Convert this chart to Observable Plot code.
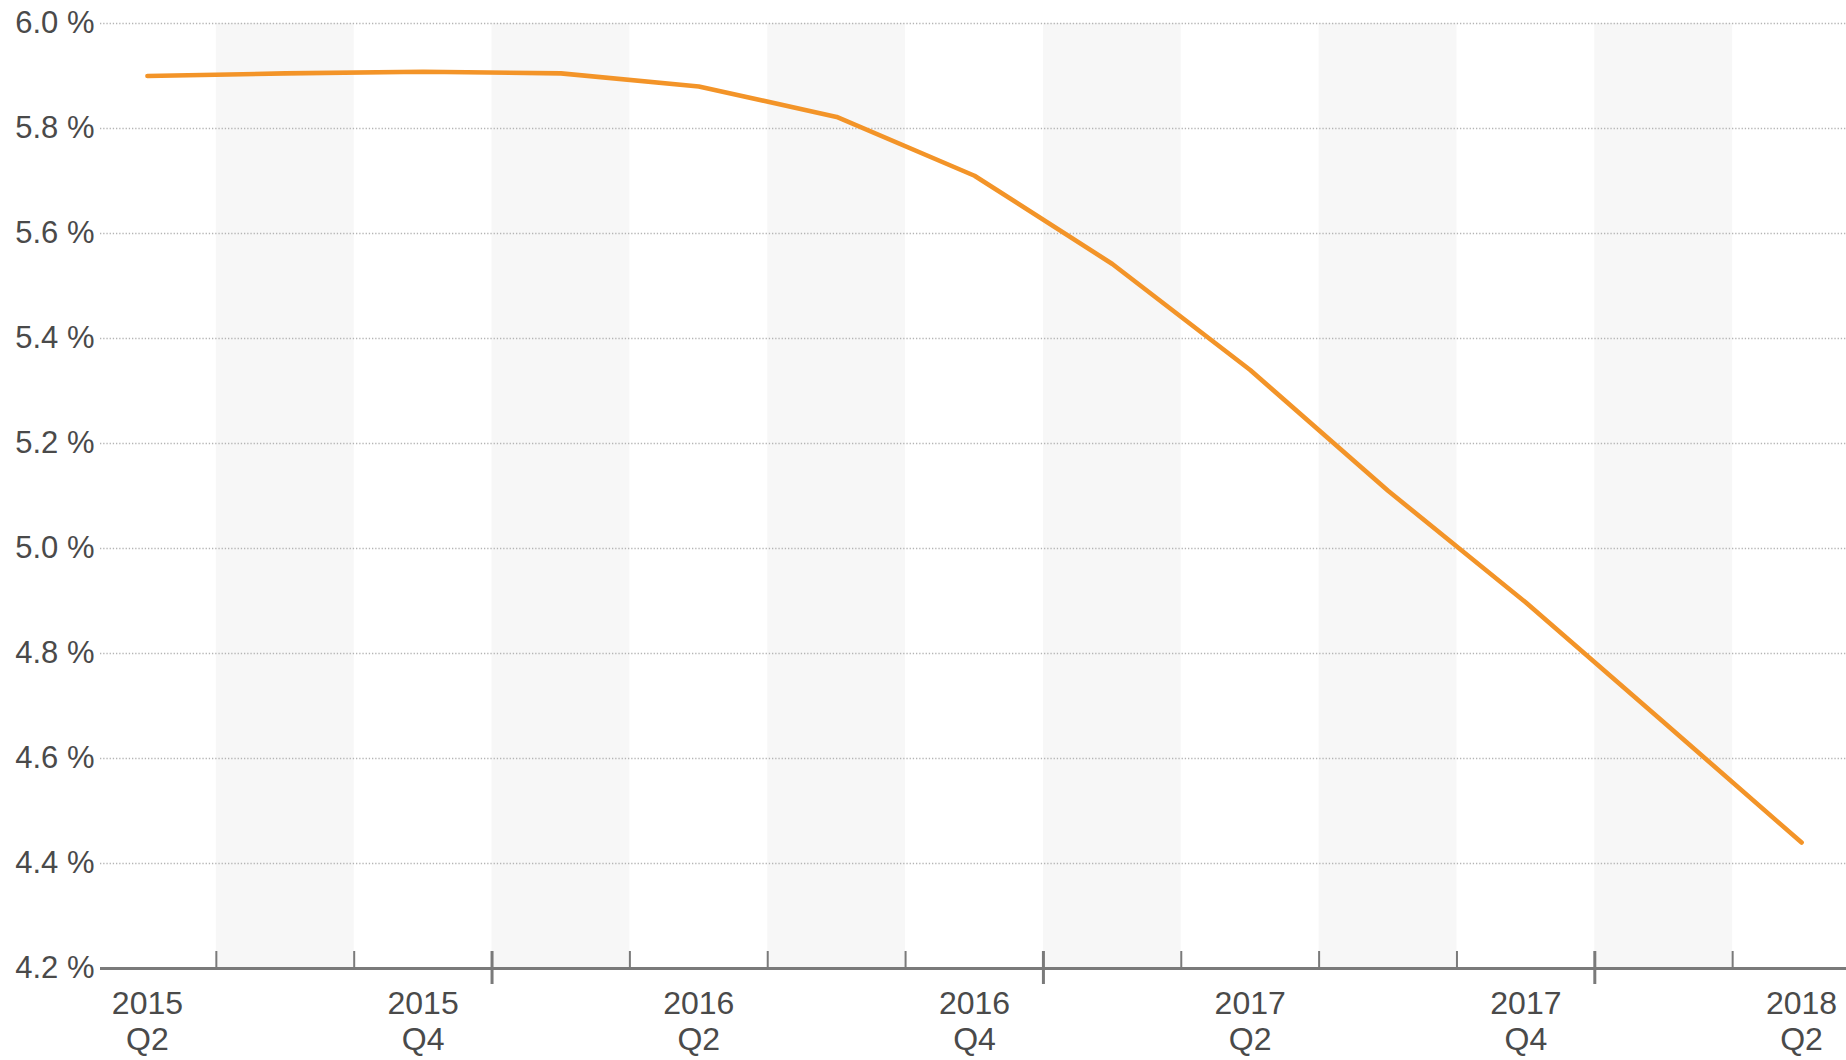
<!DOCTYPE html>
<html>
<head>
<meta charset="utf-8">
<script src="https://cdn.jsdelivr.net/npm/d3@7"></script>
<script src="https://cdn.jsdelivr.net/npm/@observablehq/plot@0.6"></script>
<style>
  html, body { margin: 0; padding: 0; background: #fff; overflow: hidden; }
  #chart svg { display: block; overflow: hidden; }
</style>
</head>
<body>
<div id="chart"></div>
<script>
const quarters = ["2015 Q2","2015 Q3","2015 Q4","2016 Q1","2016 Q2","2016 Q3","2016 Q4",
                  "2017 Q1","2017 Q2","2017 Q3","2017 Q4","2018 Q1","2018 Q2"];
const values = [5.90, 5.905, 5.908, 5.905, 5.88, 5.822, 5.71, 5.542, 5.34, 5.11, 4.897, 4.669, 4.44];
const yTicks = [4.2, 4.4, 4.6, 4.8, 5.0, 5.2, 5.4, 5.6, 5.8, 6.0];
const gridTicks = [4.4, 4.6, 4.8, 5.0, 5.2, 5.4, 5.6, 5.8, 6.0];

const data = quarters.map((q, i) => ({q, i, v: values[i]}));
const shaded = data.filter(d => /Q[13]$/.test(d.q));
const labelled = data.filter(d => /Q[24]$/.test(d.q));
const boundaries = data.slice(1).map(d => ({pos: d.i - 0.5, major: d.q.endsWith("Q1")}));
const minor = boundaries.filter(b => !b.major);
const major = boundaries.filter(b => b.major);

const textColor = "#4a4a4a";
const axisColor = "#7a7a7a";

const chart = Plot.plot({
  width: 1846,
  height: 1060,
  marginTop: 23,
  marginBottom: 92,
  marginLeft: 100,
  marginRight: 0,
  style: {fontFamily: "'Liberation Sans', Arial, sans-serif", background: "#fff"},
  x: {type: "linear", domain: [-0.5, quarters.length - 0.5], range: [78, 1870], axis: null},
  y: {domain: [4.2, 6.0], axis: null},
  marks: [
    Plot.rectY(shaded, {x1: d => d.i - 0.5, x2: d => d.i + 0.5, y1: 4.2, y2: 6.0, fill: "#f7f7f7"}),
    Plot.ruleY(gridTicks, {stroke: "#b4b4b4", strokeWidth: 1.3, strokeDasharray: "1.3,1.9"}),
    Plot.ruleX(minor, {x: "pos", stroke: axisColor, strokeWidth: 2, insetTop: 928}),
    Plot.ruleX(major, {x: "pos", stroke: axisColor, strokeWidth: 3, insetTop: 928, insetBottom: -16}),
    Plot.ruleY([4.2], {stroke: axisColor, strokeWidth: 3}),
    Plot.line(data, {x: "i", y: "v", stroke: "#f39428", strokeWidth: 4.6, strokeLinecap: "round", strokeLinejoin: "round"}),
    Plot.axisY(yTicks, {label: null, tickSize: 0, tickPadding: 6, tickFormat: d => d.toFixed(1) + " %", fontSize: 31, color: textColor}),
    Plot.text(labelled, {x: "i", y: 4.2, text: d => d.q.replace(" ", "\n"), dy: 19, lineAnchor: "top",
      lineHeight: 1.15, fontSize: 32, fill: textColor, textAnchor: "middle"})
  ]
});
document.getElementById("chart").append(chart);
</script>
</body>
</html>
